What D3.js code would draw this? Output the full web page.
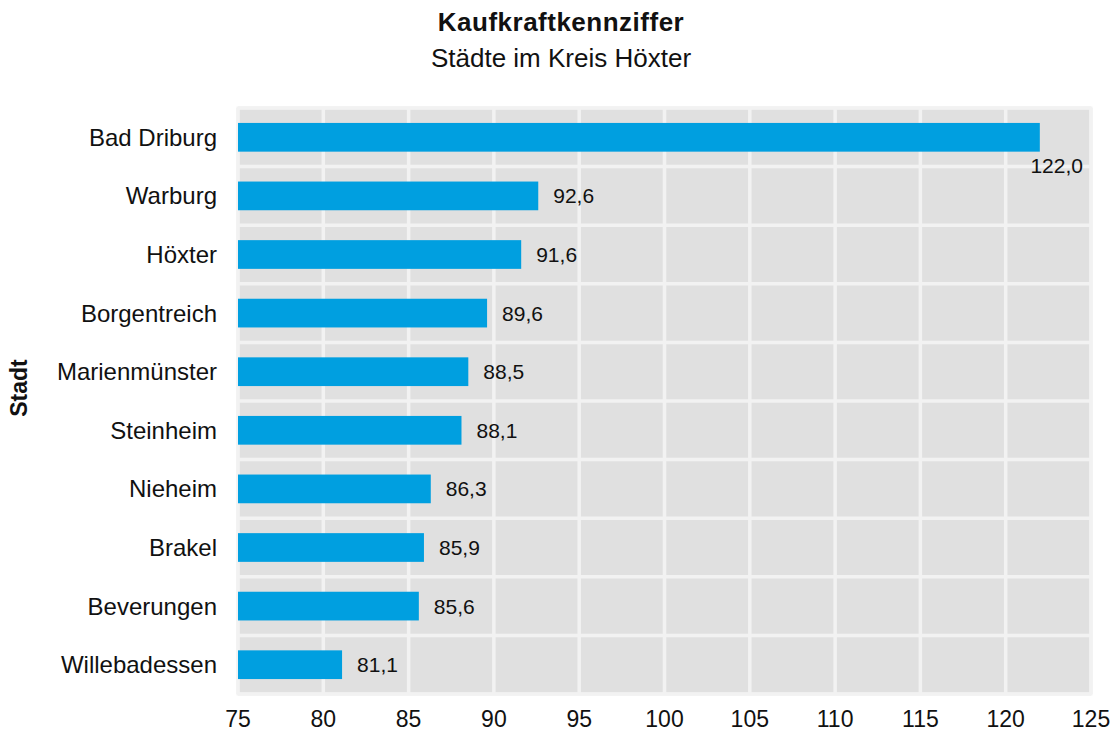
<!DOCTYPE html>
<html>
<head>
<meta charset="utf-8">
<script src="https://cdn.jsdelivr.net/npm/d3@7"></script>
<style>
  html, body { margin: 0; padding: 0; background: #ffffff; }
  svg { display: block; font-family: "Liberation Sans", Arial, Helvetica, sans-serif; }
</style>
</head>
<body>
<svg id="chart" width="1114" height="731"></svg>
<script>
// Kaufkraftkennziffer der Städte im Kreis Höxter
const cities = ["Bad Driburg", "Warburg", "Höxter", "Borgentreich", "Marienmünster",
                "Steinheim", "Nieheim", "Brakel", "Beverungen", "Willebadessen"];
const values = [122.0, 92.6, 91.6, 89.6, 88.5, 88.1, 86.3, 85.9, 85.6, 81.1];
const xTicks = [75, 80, 85, 90, 95, 100, 105, 110, 115, 120, 125];

const titleText = "Kaufkraftkennziffer";
const subtitleText = "Städte im Kreis Höxter";
const yAxisTitle = "Stadt";

const svg = d3.select("#chart");

const plot = { left: 238, right: 1091, top: 108, bottom: 694 };

const x = d3.scaleLinear().domain([75, 125]).range([plot.left, plot.right]);
const y = d3.scaleBand().domain(cities).range([plot.top, plot.bottom]).paddingInner(0.51).paddingOuter(0.255);
const yBands = d3.scaleBand().domain(cities).range([plot.top, plot.bottom]);

const fmt = v => d3.format(".1f")(v).replace(".", ",");

const gridColor = "#f2f2f2";
const textColor = "#111";

// panel background
svg.append("rect")
  .attr("x", plot.left).attr("y", plot.top)
  .attr("width", plot.right - plot.left).attr("height", plot.bottom - plot.top)
  .attr("fill", "#e0e0e0");

// vertical gridlines
svg.append("g").selectAll("line").data(xTicks).join("line")
  .attr("x1", d => x(d)).attr("x2", d => x(d))
  .attr("y1", plot.top).attr("y2", plot.bottom)
  .attr("stroke", gridColor).attr("stroke-width", 3.5);

// horizontal gridlines between categories
const bandEdges = cities.map(c => yBands(c)).concat([plot.bottom]);
svg.append("g").selectAll("line").data(bandEdges).join("line")
  .attr("x1", plot.left).attr("x2", plot.right)
  .attr("y1", d => d).attr("y2", d => d)
  .attr("stroke", gridColor).attr("stroke-width", 3.5);

// panel border
svg.append("rect")
  .attr("x", plot.left).attr("y", plot.top)
  .attr("width", plot.right - plot.left).attr("height", plot.bottom - plot.top)
  .attr("fill", "none").attr("stroke", gridColor).attr("stroke-width", 3);

// bars
svg.append("g").selectAll("rect").data(values).join("rect")
  .attr("x", x(75))
  .attr("y", (d, i) => y(cities[i]))
  .attr("width", d => x(d) - x(75))
  .attr("height", y.bandwidth())
  .attr("fill", "#009fe0");

// value labels
svg.append("g").selectAll("text").data(values).join("text")
  .each(function (d, i) {
    const sel = d3.select(this);
    const cy = y(cities[i]) + y.bandwidth() / 2;
    const lx = x(d) + 15;
    sel.text(fmt(d)).attr("font-size", 21).attr("fill", textColor);
    const w = this.getComputedTextLength();
    if (lx + w > plot.right) {
      // not enough room to the right: place below the bar end
      sel.attr("x", plot.right - 8).attr("y", cy + 36).attr("text-anchor", "end");
    } else {
      sel.attr("x", lx).attr("y", cy).attr("dy", "0.36em");
    }
  });

// category axis labels
svg.append("g").selectAll("text").data(cities).join("text")
  .attr("x", 217)
  .attr("y", d => y(d) + y.bandwidth() / 2)
  .attr("dy", "0.35em")
  .attr("text-anchor", "end")
  .attr("font-size", 24)
  .attr("fill", textColor)
  .text(d => d);

// x tick labels
svg.append("g").selectAll("text").data(xTicks).join("text")
  .attr("x", d => x(d))
  .attr("y", 727)
  .attr("text-anchor", "middle")
  .attr("font-size", 23)
  .attr("fill", textColor)
  .text(d => d);

// axis title
svg.append("text")
  .attr("transform", "translate(27,388) rotate(-90)")
  .attr("text-anchor", "middle")
  .attr("font-size", 23)
  .attr("font-weight", "bold")
  .attr("fill", textColor)
  .text(yAxisTitle);

// titles
svg.append("text")
  .attr("x", 561).attr("y", 31)
  .attr("text-anchor", "middle")
  .attr("font-size", 26)
  .attr("font-weight", "bold")
  .attr("letter-spacing", 0.5)
  .attr("fill", textColor)
  .text(titleText);

svg.append("text")
  .attr("x", 561).attr("y", 67)
  .attr("text-anchor", "middle")
  .attr("font-size", 26)
  .attr("fill", textColor)
  .text(subtitleText);
</script>
</body>
</html>
